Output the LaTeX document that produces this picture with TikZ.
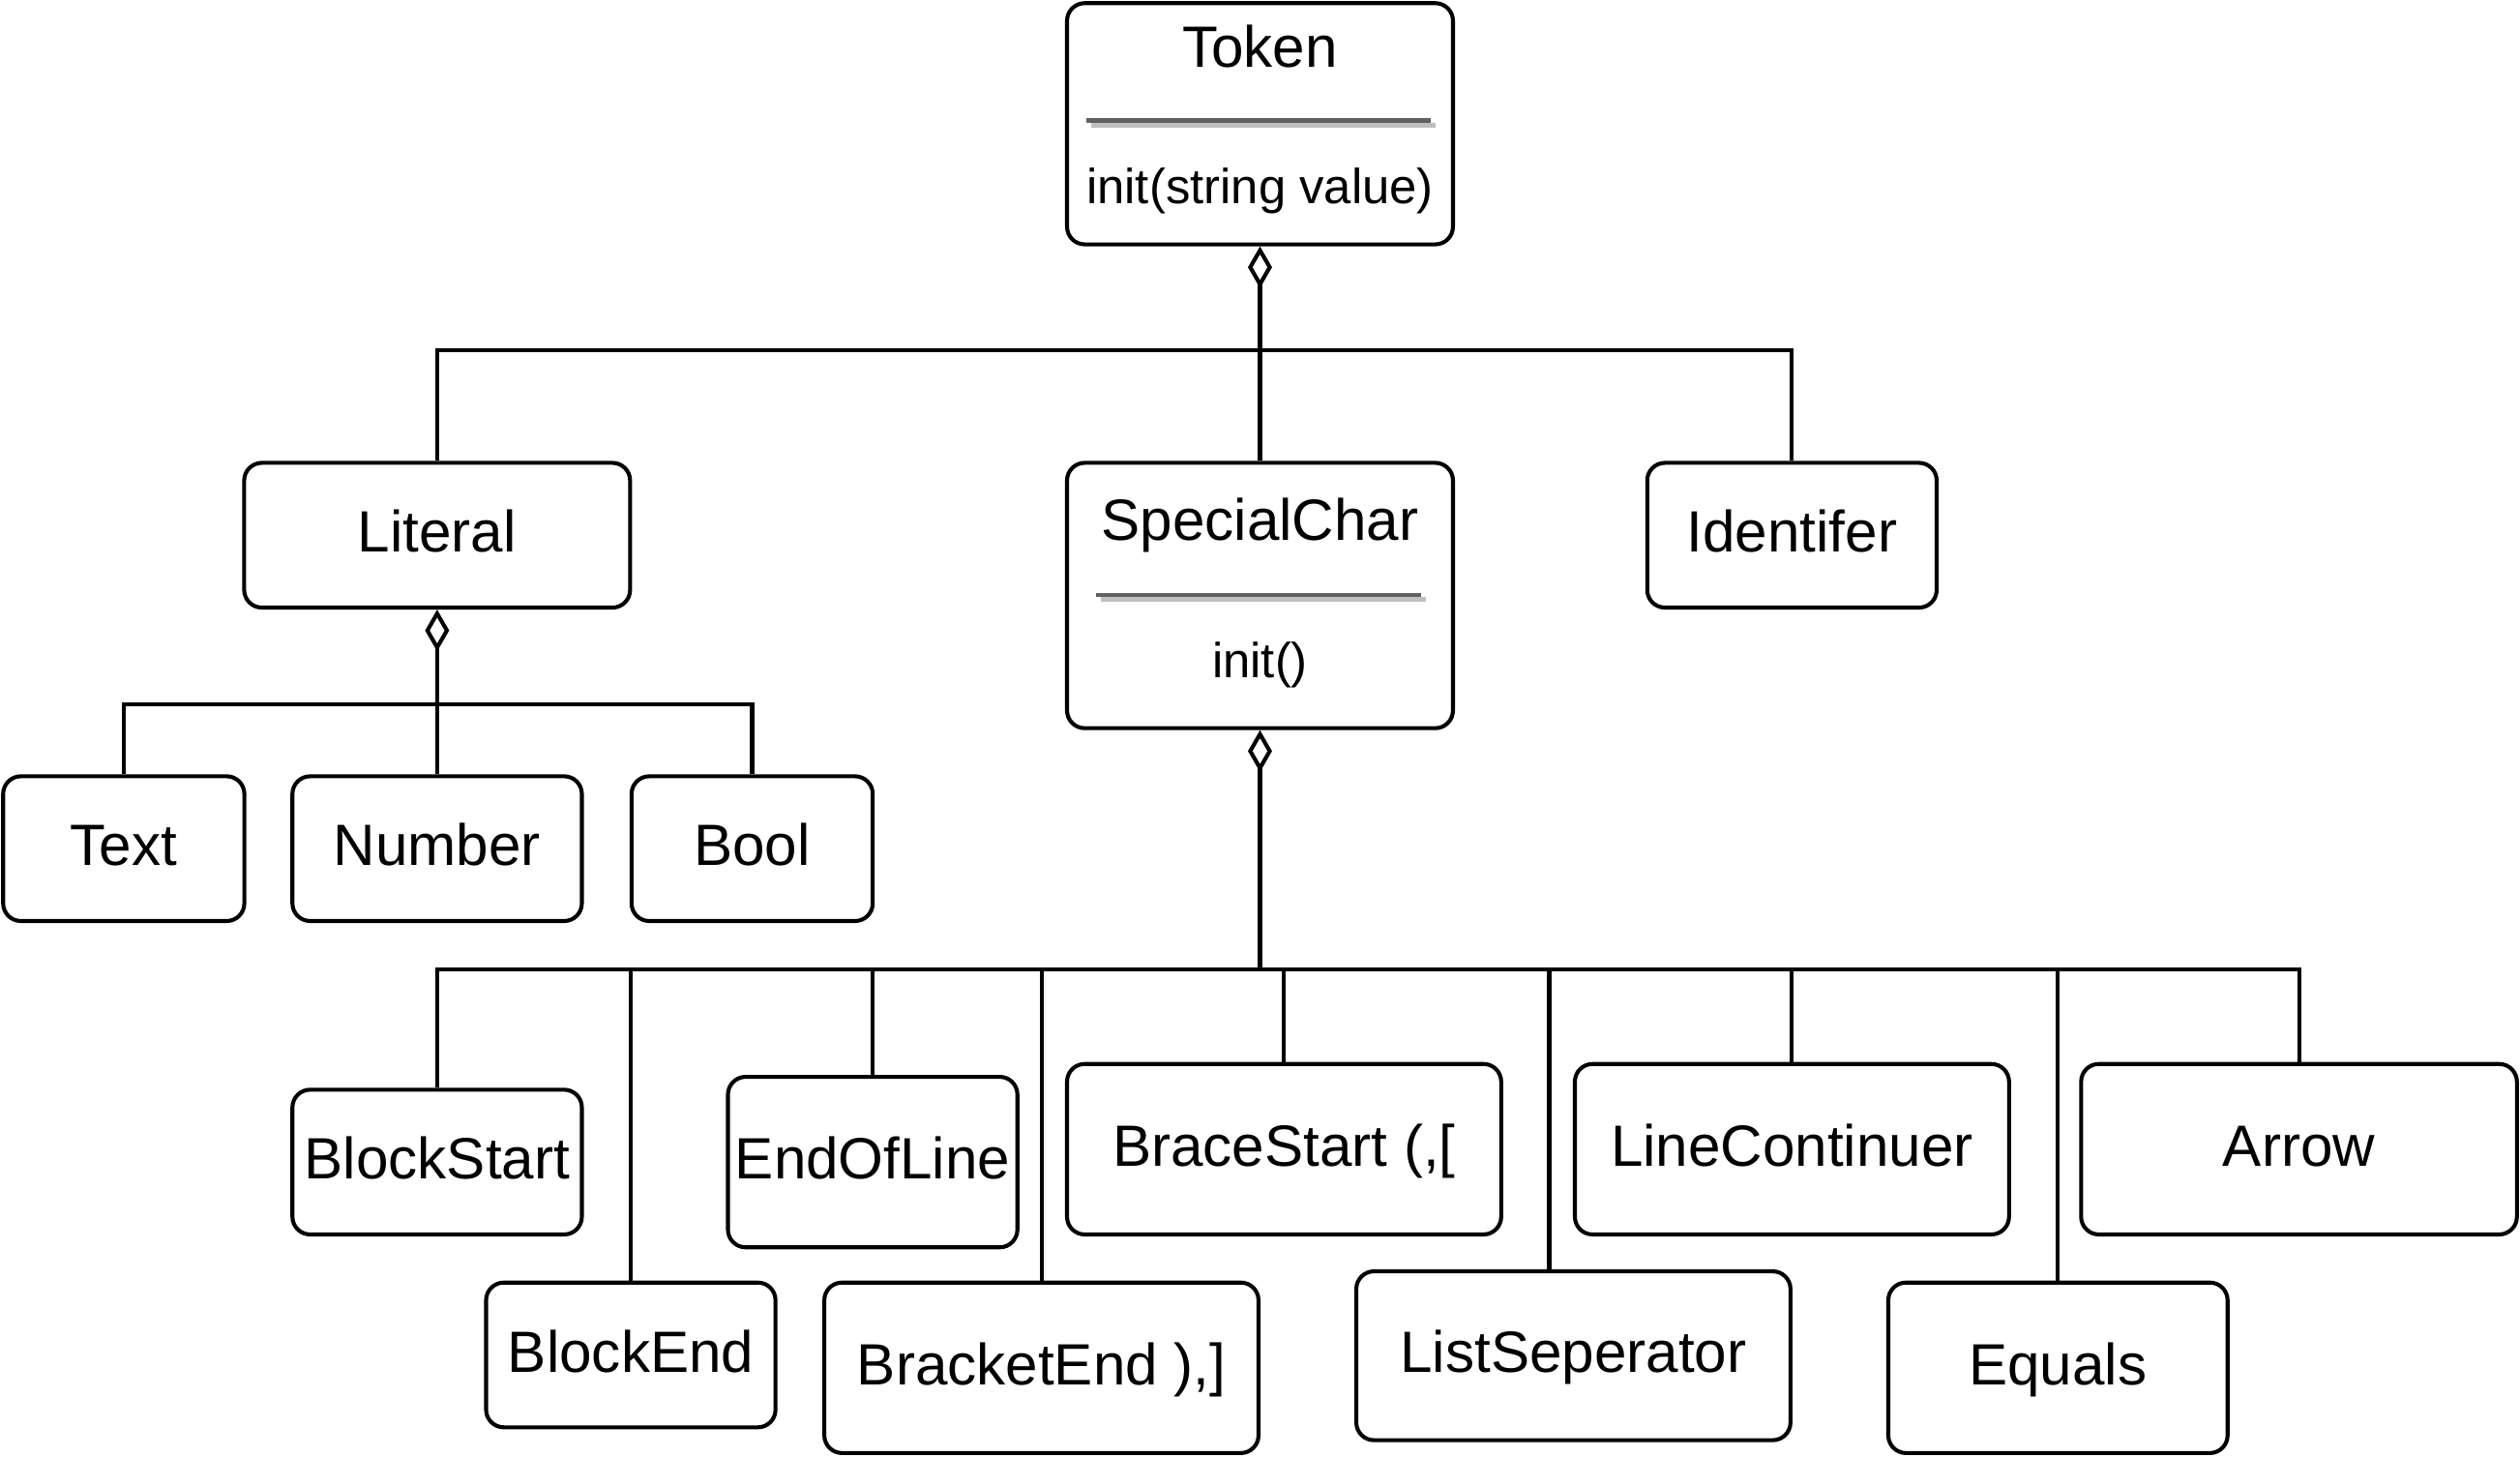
\documentclass[tikz,border=0pt]{standalone}
\usepackage{fontspec}
\setmainfont{Liberation Sans}
\usetikzlibrary{arrows.meta}

\begin{document}
\begin{tikzpicture}[x=0.01cm,y=-0.01cm,line width=0.7pt,
   clsname/.style={font=\fontsize{10.3}{12}\selectfont,inner sep=0pt,text height=0.72em,text depth=0.12em},
   cls/.style={clsname,draw,rounded corners=0.11cm,minimum height=0.9cm},
   meth/.style={font=\fontsize{8.7}{10}\selectfont,inner sep=0pt,anchor=base},
   sepdark/.style={draw=black!62,line width=0.75pt},
   sepshadow/.style={draw=black!25,line width=0.75pt},
   agg/.style={{Diamond[open,length=0.26cm,width=0.15cm]}-}]
   \useasboundingbox (0,0) rectangle (1568,906);

   \node [cls,minimum width=2.4cm,minimum height=1.5cm] (Token) at (784,77) {};
   \node [clsname,anchor=base] (TokenName) at (784,42) {Token};
   \draw [sepshadow] (679,78) -- (893,78);
   \draw [sepdark]   (676,75) -- (890,75);
   \node [meth] (TokenInit) at (784,127) {init(string value)};

   \node [cls,minimum width=2.4cm] (Literal) at (272,333) {Literal};
   \node [cls,minimum width=2.4cm,minimum height=1.65cm] (SpecialChar) at (784,370.5) {};
   \node [clsname,anchor=base] (SpecialName) at (784,336) {SpecialChar};
   \draw [sepshadow] (685,373) -- (887,373);
   \draw [sepdark]   (682,370) -- (884,370);
   \node [meth] (SpecialInit) at (784,421.5) {init()};
   \node [cls,minimum width=1.8cm] (Identifer) at (1115,333) {Identifer};

   \node [cls,minimum width=1.5cm] (Text) at (77,528) {Text};
   \node [cls,minimum width=1.8cm] (Number) at (272,528) {Number};
   \node [cls,minimum width=1.5cm] (Bool) at (468,528) {Bool};

   \node [cls,minimum width=1.8cm] (BlockStart) at (272,723) {BlockStart};
   \node [cls,minimum width=1.8cm] (BlockEnd) at (392.5,843) {BlockEnd};
   \node [cls,minimum width=1.8cm,minimum height=1.06cm] (EndOfLine) at (543,723) {EndOfLine};
   \node [cls,minimum width=2.7cm,minimum height=1.06cm] (BracketEnd) at (648,851) {BracketEnd ),]};
   \node [cls,minimum width=2.7cm,minimum height=1.06cm] (BraceStart) at (799,715) {BraceStart (,[};
   \node [cls,minimum width=2.7cm,minimum height=1.05cm] (ListSeperator) at (979,843.5) {ListSeperator};
   \node [cls,minimum width=2.7cm,minimum height=1.06cm] (LineContinuer) at (1115,715) {LineContinuer};
   \node [cls,minimum width=2.11cm,minimum height=1.06cm] (Equals) at (1280.5,851) {Equals};
   \node [cls,minimum width=2.71cm,minimum height=1.06cm] (Arrow) at (1430.5,715) {Arrow};

   % Token
   \coordinate (jTop) at (784,218);
   \draw [agg] (Token.south) -- (jTop);
   \draw (jTop) -| (Literal.north);
   \draw (jTop) -- (SpecialChar.north);
   \draw (jTop) -| (Identifer.north);

   % Literal
   \coordinate (jLit) at (272,438);
   \draw [agg] (Literal.south) -- (jLit);
   \foreach \n in {Text,Number,Bool}
      \draw (jLit) -| (\n.north);

   % SpecialChar
   \coordinate (jSpec) at (784,603);
   \draw [agg] (SpecialChar.south) -- (jSpec);
   \foreach \n in {BlockStart,BlockEnd,EndOfLine,BracketEnd,BraceStart,LineContinuer,Equals,Arrow}
      \draw (jSpec) -| (\n.north);
   \draw (jSpec) -| ([xshift=-0.15cm]ListSeperator.north);
\end{tikzpicture}
\end{document}
